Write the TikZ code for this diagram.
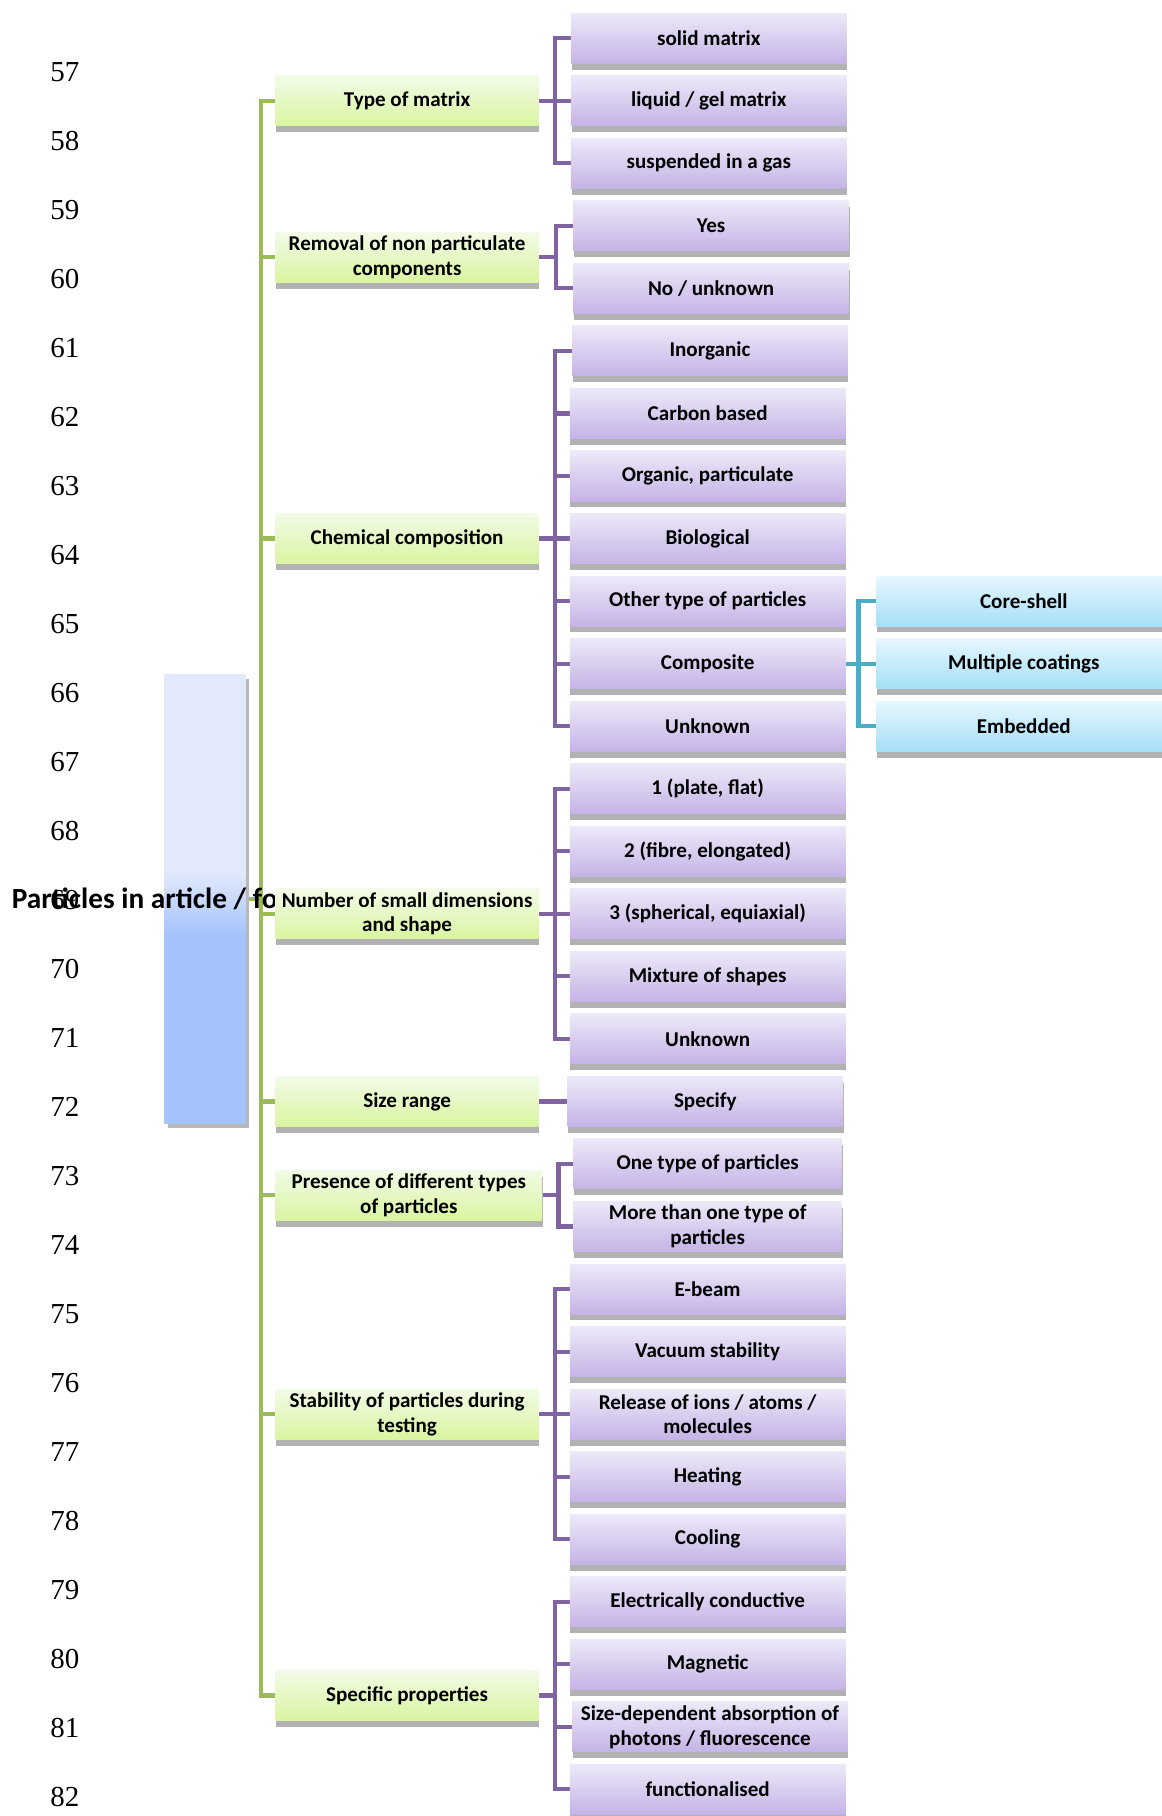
\documentclass[tikz,border=0pt]{standalone}
\usepackage{fontspec}
\setmainfont{Carlito}
\newfontfamily\numfont{Liberation Serif}
\usepackage{xcolor}
\usetikzlibrary{shadows,backgrounds}

\definecolor{catTop}{HTML}{F2FBE7}
\definecolor{catBot}{HTML}{D9F5A0}
\definecolor{optTop}{HTML}{EDE9F8}
\definecolor{optBot}{HTML}{C5B3E6}
\definecolor{subTop}{HTML}{E6F7FE}
\definecolor{subBot}{HTML}{A5DFF7}
\definecolor{catLine}{HTML}{9BBB59}
\definecolor{optLine}{HTML}{8064A2}
\definecolor{subLine}{HTML}{4BACC6}
\definecolor{rootLo}{HTML}{E3E9FC}
\definecolor{rootHi}{HTML}{A5C3FB}
\pgfdeclareverticalshading{rootshade}{100bp}{color(0bp)=(rootHi); color(46bp)=(rootHi); color(53bp)=(rootLo); color(100bp)=(rootLo)}

\begin{document}
\begin{tikzpicture}[x=1pt,y=1pt,
    lnum/.style={font=\numfont\fontsize{25}{25}\selectfont},
    boxshadow/.style={drop shadow={shadow xshift=0.5pt,shadow yshift=-5.5pt,fill=black!30,opacity=1}},
    box/.style={rectangle,draw=none,inner sep=0pt,minimum height=43.2pt,align=center,
        font=\bfseries\fontsize{18.2}{21.5}\selectfont,boxshadow},
    cat/.style={box,minimum width=227pt,top color=catTop,bottom color=catBot},
    opt/.style={box,minimum width=238pt,top color=optTop,bottom color=optBot},
    sub/.style={box,minimum width=254pt,top color=subTop,bottom color=subBot},
    catline/.style={catLine,line width=3.6pt},
    optline/.style={optLine,line width=3.6pt},
    subline/.style={subLine,line width=3.6pt}]
\useasboundingbox (0,0) rectangle (1003,-1568);

    % line numbers
    \node[lnum] (ln57) at (56,-62.0) {57};
    \node[lnum] (ln58) at (56,-121.6) {58};
    \node[lnum] (ln59) at (56,-181.2) {59};
    \node[lnum] (ln60) at (56,-240.8) {60};
    \node[lnum] (ln61) at (56,-300.4) {61};
    \node[lnum] (ln62) at (56,-360.0) {62};
    \node[lnum] (ln63) at (56,-419.6) {63};
    \node[lnum] (ln64) at (56,-479.2) {64};
    \node[lnum] (ln65) at (56,-538.8) {65};
    \node[lnum] (ln66) at (56,-598.4) {66};
    \node[lnum] (ln67) at (56,-658.0) {67};
    \node[lnum] (ln68) at (56,-717.6) {68};
    \node[lnum] (ln69) at (56,-777.2) {69};
    \node[lnum] (ln70) at (56,-836.8) {70};
    \node[lnum] (ln71) at (56,-896.4) {71};
    \node[lnum] (ln72) at (56,-956.0) {72};
    \node[lnum] (ln73) at (56,-1015.6) {73};
    \node[lnum] (ln74) at (56,-1075.2) {74};
    \node[lnum] (ln75) at (56,-1134.8) {75};
    \node[lnum] (ln76) at (56,-1194.4) {76};
    \node[lnum] (ln77) at (56,-1254.0) {77};
    \node[lnum] (ln78) at (56,-1313.6) {78};
    \node[lnum] (ln79) at (56,-1373.2) {79};
    \node[lnum] (ln80) at (56,-1432.8) {80};
    \node[lnum] (ln81) at (56,-1492.4) {81};
    \node[lnum] (ln82) at (56,-1552.0) {82};

    % root
    \node[rectangle,inner sep=0pt,minimum width=70pt,minimum height=388pt,shading=rootshade,
          drop shadow={shadow xshift=3pt,shadow yshift=-4pt,fill=black!28,opacity=1}] (root) at (177,-776) {};
    % root label, its end hidden under the boxes
    \node[anchor=west,inner sep=0pt,font=\bfseries\fontsize{25.3}{25.3}\selectfont] (rootlbl) at (10,-776) {Particles in article / fo};

    % first level
    \node[cat] (tom) at (351.5,-87) {Type of matrix};
    \node[cat] (remov) at (351.5,-222) {Removal of non particulate\\components};
    \node[cat] (chem) at (351.5,-465) {Chemical composition};
    \node[cat] (nsd) at (351.5,-789) {Number of small dimensions\\and shape};
    \node[cat] (size) at (351.5,-951) {Size range};
    \node[cat,minimum width=230pt] (pres) at (353,-1032) {Presence of different types\\of particles};
    \node[cat] (stab) at (351.5,-1221) {Stability of particles during\\testing};
    \node[cat] (spec) at (351.5,-1464) {Specific properties};

    % second level
    \node[opt] (solid) at (612,-33) {solid matrix};
    \node[opt] (liquid) at (612,-87) {liquid / gel matrix};
    \node[opt] (gas) at (612,-141) {suspended in a gas};

    \node[opt] (yes) at (614,-195) {Yes};
    \node[opt] (nounk) at (614,-249) {No / unknown};

    \node[opt] (inorg) at (613,-303) {Inorganic};
    \node[opt] (carbon) at (611,-357) {Carbon based};
    \node[opt] (organ) at (611,-411) {Organic, particulate};
    \node[opt] (bio) at (611,-465) {Biological};
    \node[opt] (other) at (611,-519) {Other type of particles};
    \node[opt] (compo) at (611,-573) {Composite};
    \node[opt] (chemunk) at (611,-627) {Unknown};

    \node[opt] (plate) at (611,-681) {1 (plate, flat)};
    \node[opt] (fibre) at (611,-735) {2 (fibre, elongated)};
    \node[opt] (spher) at (611,-789) {3 (spherical, equiaxial)};
    \node[opt] (mix) at (611,-843) {Mixture of shapes};
    \node[opt] (shapeunk) at (611,-897) {Unknown};

    \node[opt] (specify) at (609,-951) {Specify};

    \node[opt,minimum width=232pt] (onetype) at (611,-1005) {One type of particles};
    \node[opt,minimum width=232pt] (moretype) at (611,-1059) {More than one type of\\particles};

    \node[opt] (ebeam) at (611,-1113) {E-beam};
    \node[opt] (vacuum) at (611,-1167) {Vacuum stability};
    \node[opt] (release) at (611,-1221) {Release of ions / atoms /\\molecules};
    \node[opt] (heat) at (611,-1275) {Heating};
    \node[opt] (cool) at (611,-1329) {Cooling};

    \node[opt] (elec) at (611,-1383) {Electrically conductive};
    \node[opt] (magn) at (611,-1437) {Magnetic};
    \node[opt] (photon) at (613,-1491) {Size-dependent absorption of\\photons / fluorescence};
    \node[opt] (func) at (611,-1545) {functionalised};

    % third level
    \node[sub] (core) at (884,-519) {Core-shell};
    \node[sub] (coat) at (884,-573) {Multiple coatings};
    \node[sub] (embed) at (884,-627) {Embedded};

    % connectors, kept under the root label
    \begin{pgfonlayer}{background}
    \draw[catline] (root.east) -- ++(13,0) |- (tom.west);
    \draw[catline] (root.east) -- ++(13,0) |- (remov.west);
    \draw[catline] (root.east) -- ++(13,0) |- (chem.west);
    \draw[catline] (root.east) -- ++(13,0) |- (nsd.west);
    \draw[catline] (root.east) -- ++(13,0) |- (size.west);
    \draw[catline] (root.east) -- ++(13,0) |- (pres.west);
    \draw[catline] (root.east) -- ++(13,0) |- (stab.west);
    \draw[catline] (root.east) -- ++(13,0) |- (spec.west);

    \draw[optline] (tom.east) -- ++(14,0) |- (solid.west);
    \draw[optline] (tom.east) -- ++(14,0) |- (liquid.west);
    \draw[optline] (tom.east) -- ++(14,0) |- (gas.west);

    \draw[optline] (remov.east) -- ++(15,0) |- (yes.west);
    \draw[optline] (remov.east) -- ++(15,0) |- (nounk.west);

    \draw[optline] (chem.east) -- ++(14,0) |- (inorg.west);
    \draw[optline] (chem.east) -- ++(14,0) |- (carbon.west);
    \draw[optline] (chem.east) -- ++(14,0) |- (organ.west);
    \draw[optline] (chem.east) -- ++(14,0) |- (bio.west);
    \draw[optline] (chem.east) -- ++(14,0) |- (other.west);
    \draw[optline] (chem.east) -- ++(14,0) |- (compo.west);
    \draw[optline] (chem.east) -- ++(14,0) |- (chemunk.west);

    \draw[optline] (nsd.east) -- ++(14,0) |- (plate.west);
    \draw[optline] (nsd.east) -- ++(14,0) |- (fibre.west);
    \draw[optline] (nsd.east) -- ++(14,0) |- (spher.west);
    \draw[optline] (nsd.east) -- ++(14,0) |- (mix.west);
    \draw[optline] (nsd.east) -- ++(14,0) |- (shapeunk.west);

    \draw[optline] (size.east) -- (specify.west);

    \draw[optline] (pres.east) -- ++(14,0) |- (onetype.west);
    \draw[optline] (pres.east) -- ++(14,0) |- (moretype.west);

    \draw[optline] (stab.east) -- ++(14,0) |- (ebeam.west);
    \draw[optline] (stab.east) -- ++(14,0) |- (vacuum.west);
    \draw[optline] (stab.east) -- ++(14,0) |- (release.west);
    \draw[optline] (stab.east) -- ++(14,0) |- (heat.west);
    \draw[optline] (stab.east) -- ++(14,0) |- (cool.west);

    \draw[optline] (spec.east) -- ++(14,0) |- (elec.west);
    \draw[optline] (spec.east) -- ++(14,0) |- (magn.west);
    \draw[optline] (spec.east) -- ++(14,0) |- (photon.west);
    \draw[optline] (spec.east) -- ++(14,0) |- (func.west);

    \draw[subline] (compo.east) -- ++(11,0) |- (core.west);
    \draw[subline] (compo.east) -- ++(11,0) |- (coat.west);
    \draw[subline] (compo.east) -- ++(11,0) |- (embed.west);
    \end{pgfonlayer}
\end{tikzpicture}
\end{document}
